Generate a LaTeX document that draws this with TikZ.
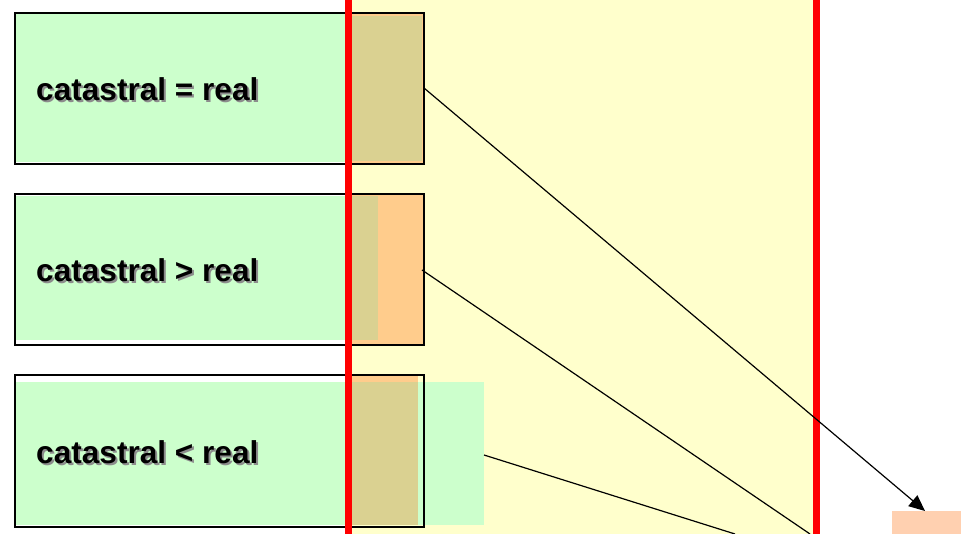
\documentclass[tikz,border=0pt]{standalone}
\usepackage{fontspec}
\setmainfont{Liberation Sans}
\usetikzlibrary{arrows.meta}
\definecolor{bgyellow}{HTML}{FFFFCC}
\definecolor{lgreen}{HTML}{CCFFCC}
\definecolor{lorange}{HTML}{FFCC8C}
\definecolor{olive}{HTML}{DAD191}
\definecolor{peach}{HTML}{FFD0B0}
\definecolor{redline}{HTML}{FF0000}
\definecolor{shade}{HTML}{8C8C8C}
\tikzset{
  lbl/.style={font=\bfseries\fontsize{31.6}{34}\selectfont, anchor=west, inner sep=0pt},
  frame/.style={draw=black, line width=1.3pt},
  conn/.style={draw=black, line width=1.2pt},
}
\newcommand{\shtext}[1]{\rlap{\kern2pt\raisebox{-2pt}{\textcolor{shade}{#1}}}#1}
\begin{document}
\begin{tikzpicture}[x=1pt,y=1pt]
\useasboundingbox (0,0) rectangle (961,534);
% yellow band
\fill[bgyellow] (346,0) rectangle (816,534);
% peach target
\fill[peach] (892,0) rectangle (961,23);
\coordinate (target) at (925,23);

% box 1
\fill[lgreen] (16,372) rectangle (346,520);
\fill[lorange] (352,370) rectangle (424,521);
\fill[olive] (352,373) rectangle (422,518);
\node[frame, minimum width=409pt, minimum height=151pt, inner sep=0pt] (b1) at (219.5,445.5) {};
\coordinate (p1) at (424,446);
\node[lbl] (t1) at (36,444) {\shtext{catastral = real}};

% box 2
\fill[lgreen] (16,194) rectangle (346,338);
\fill[lorange] (352,189) rectangle (424,340);
\fill[olive] (352,194) rectangle (378,338);
\node[frame, minimum width=409pt, minimum height=151pt, inner sep=0pt] (b2) at (219.5,264.5) {};
\coordinate (p2) at (422,264);
\node[lbl] (t2) at (36,263) {\shtext{catastral > real}};

% box 3
\fill[lgreen] (16,9) rectangle (484,152);
\fill[lorange] (352,152) rectangle (418,159);
\fill[olive] (352,9) rectangle (418,152);
\node[frame, minimum width=409pt, minimum height=152pt, inner sep=0pt] (b3) at (219.5,83) {};
\coordinate (p3) at (484,79);
\node[lbl] (t3) at (36,81) {\shtext{catastral < real}};

% red lines
\draw[redline, line width=7pt] (348.5,0) -- (348.5,534);
\draw[redline, line width=7pt] (816,0) -- (816,534);

% connectors
\coordinate (e2) at (810,0);
\coordinate (e3) at (735,0);
\draw[conn, -{Triangle[length=16pt,width=14pt]}] (p1) -- (target);
\draw[conn] (p2) -- (e2);
\draw[conn] (p3) -- (e3);
\end{tikzpicture}
\end{document}
